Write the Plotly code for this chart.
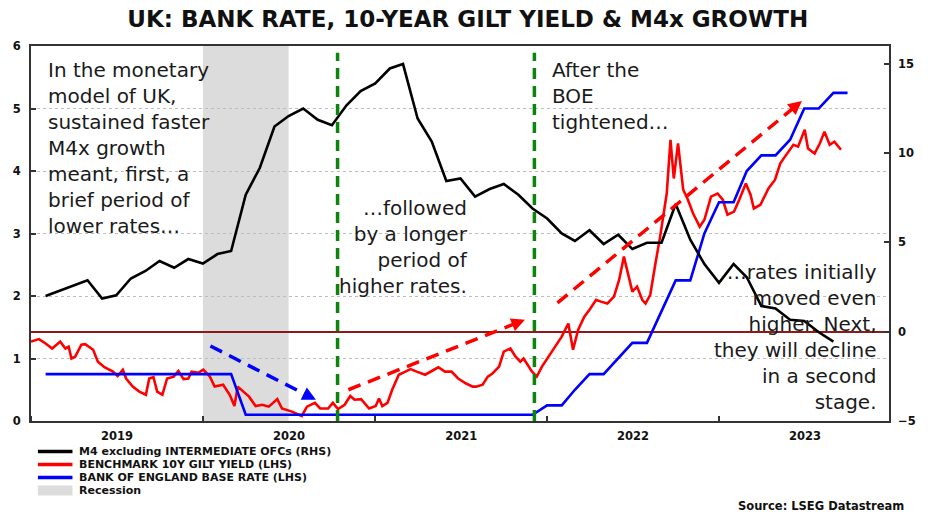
import pandas as pd
import plotly.graph_objects as go

# ---------------- DATA ----------------
# Monthly observations (end of previous month), Feb-2019 onward
month_dates = pd.date_range("2019-02-01", periods=57, freq="MS")

bank_rate = [0.75, 0.75, 0.75, 0.75, 0.75, 0.75, 0.75, 0.75, 0.75, 0.75, 0.75, 0.75, 0.75, 0.75,
             0.1, 0.1, 0.1, 0.1, 0.1, 0.1, 0.1, 0.1, 0.1, 0.1, 0.1, 0.1, 0.1, 0.1, 0.1, 0.1, 0.1,
             0.1, 0.1, 0.1, 0.1,
             0.25, 0.25, 0.5, 0.75, 0.75, 1.0, 1.25, 1.25, 1.75, 2.25, 2.25, 3.0, 3.5, 3.5, 4.0,
             4.25, 4.25, 4.5, 5.0, 5.0, 5.25, 5.25]

m4x_growth = [2.0, 2.28, 2.56, 2.88, 1.86, 2.04, 2.98, 3.4, 3.96, 3.58, 4.07, 3.82, 4.35, 4.52,
              7.67, 9.18, 11.49, 12.08, 12.5, 11.87, 11.56, 12.68, 13.48, 13.9, 14.74, 14.99,
              11.94, 10.65, 8.44, 8.58, 7.57, 7.99, 8.27, 7.67, 6.9, 6.34, 5.5, 5.08, 5.68, 4.91,
              5.43, 4.63, 4.98, 4.98, 7.15, 5.15, 3.79, 2.74, 3.79, 3.05, 1.44, 1.3, 0.67, 0.6,
              -0.03, -0.55]

gilt_dates = [
    "2019-01-01", "2019-01-18", "2019-02-01", "2019-02-15", "2019-03-04", "2019-03-15", "2019-03-22",
    "2019-03-28", "2019-04-05", "2019-04-18", "2019-04-26", "2019-05-13", "2019-05-23", "2019-06-06",
    "2019-06-24", "2019-07-04", "2019-07-15", "2019-07-22", "2019-08-05", "2019-08-19", "2019-09-02",
    "2019-09-09", "2019-09-18", "2019-09-26", "2019-10-07", "2019-10-17", "2019-10-31", "2019-11-10",
    "2019-11-21", "2019-12-01", "2019-12-08", "2019-12-22", "2020-01-02", "2020-01-16", "2020-01-26",
    "2020-02-13", "2020-02-27", "2020-03-08", "2020-03-15", "2020-03-26", "2020-04-08", "2020-04-22",
    "2020-05-06", "2020-05-20", "2020-06-07", "2020-06-17", "2020-07-08", "2020-07-29", "2020-08-09",
    "2020-08-26", "2020-09-06", "2020-09-23", "2020-10-03", "2020-10-14", "2020-10-28", "2020-11-09",
    "2020-11-18", "2020-12-02", "2020-12-19", "2021-01-02", "2021-01-09", "2021-01-16", "2021-01-27",
    "2021-02-06", "2021-02-20", "2021-03-06", "2021-03-17", "2021-03-30", "2021-04-17", "2021-05-01",
    "2021-05-15", "2021-05-29", "2021-06-12", "2021-06-26", "2021-07-13", "2021-07-27", "2021-08-03",
    "2021-08-17", "2021-08-28", "2021-09-07", "2021-09-21", "2021-10-01", "2021-10-15", "2021-10-26",
    "2021-11-05", "2021-11-12", "2021-11-19", "2021-11-30", "2021-12-10", "2021-12-21", "2022-01-04",
    "2022-01-18", "2022-02-01", "2022-02-15", "2022-02-25", "2022-03-08", "2022-03-21", "2022-04-01",
    "2022-04-15", "2022-04-25", "2022-05-09", "2022-05-23", "2022-06-03", "2022-06-13", "2022-06-20",
    "2022-07-01", "2022-07-11", "2022-07-22", "2022-07-29", "2022-08-08", "2022-08-19", "2022-08-29",
    "2022-09-12", "2022-09-20", "2022-09-27", "2022-10-06", "2022-10-17", "2022-10-27", "2022-11-07",
    "2022-11-21", "2022-12-01", "2022-12-15", "2022-12-29", "2023-01-09", "2023-01-19", "2023-02-02",
    "2023-02-13", "2023-02-27", "2023-03-09", "2023-03-16", "2023-03-30", "2023-04-16", "2023-04-30",
    "2023-05-11", "2023-05-21", "2023-06-08", "2023-06-18", "2023-07-02", "2023-07-09", "2023-07-23",
    "2023-08-03", "2023-08-13", "2023-08-24", "2023-09-03", "2023-09-17"]

gilt_yield = [
    1.27, 1.31, 1.24, 1.16, 1.27, 1.16, 1.19, 1.0, 1.03, 1.22, 1.23, 1.14, 0.95, 0.86,
    0.79, 0.72, 0.82, 0.68, 0.55, 0.47, 0.42, 0.68, 0.70, 0.47, 0.42, 0.68, 0.71, 0.80,
    0.67, 0.68, 0.79, 0.77, 0.82, 0.71, 0.55, 0.58, 0.42, 0.24, 0.55, 0.47, 0.39, 0.24,
    0.26, 0.23, 0.35, 0.20, 0.15, 0.08, 0.23, 0.29, 0.20, 0.20, 0.29, 0.19, 0.26, 0.40,
    0.34, 0.35, 0.20, 0.24, 0.36, 0.24, 0.29, 0.50, 0.74, 0.79, 0.83, 0.79, 0.74, 0.80,
    0.86, 0.79, 0.79, 0.68, 0.60, 0.55, 0.55, 0.58, 0.71, 0.76, 0.87, 1.11, 1.16, 1.03,
    0.95, 1.0, 0.92, 0.79, 0.71, 0.87, 1.03, 1.19, 1.35, 1.56, 1.14, 1.46, 1.67, 1.78,
    1.94, 1.91, 1.88, 1.99, 2.26, 2.63, 2.42, 2.07, 2.15, 1.94, 1.88, 2.02, 2.52, 2.95,
    3.64, 4.50, 3.88, 4.44, 3.70, 3.54, 3.32, 3.11, 3.22, 3.59, 3.64, 3.54, 3.30, 3.35,
    3.54, 3.80, 3.62, 3.40, 3.46, 3.72, 3.86, 4.12, 4.23, 4.42, 4.39, 4.66, 4.36, 4.28,
    4.44, 4.63, 4.42, 4.47, 4.34]

recession = ("2020-01-01", "2020-07-01")
event_dates = ["2020-10-13", "2021-12-05"]

x_range = ["2019-01-01", "2023-12-28"]
left_range = [0, 6]
right_range = [-5, 16]
right_ticks = [-5, 0, 5, 10, 15]

# (start date, start LHS value, end date, end LHS value, colour, head pixel offset, line fraction)
arrows = [
    ("2020-01-17", 1.20, "2020-08-28", 0.34, "#0000ff", (-8.9, -4.5), 0.94),
    ("2020-11-05", 0.50, "2021-11-15", 1.62, "#ff0000", (-9.3, 3.7), 0.96),
    ("2022-01-23", 1.89, "2023-06-26", 5.12, "#ff0000", (-7.7, 6.3), 0.975),
]

legend_items = [
    ("M4 excluding INTERMEDIATE OFCs (RHS)", "#000000"),
    ("BENCHMARK 10Y GILT YIELD (LHS)", "#ff0000"),
    ("BANK OF ENGLAND BASE RATE (LHS)", "#0000ff"),
]

title_text = "UK: BANK RATE, 10-YEAR GILT YIELD & M4x GROWTH"
source_text = "Source: LSEG Datastream"

# ---------------- FIGURE ----------------
FONT = "DejaVu Sans"
fig = go.Figure()

fig.add_trace(go.Scatter(x=gilt_dates, y=gilt_yield, mode="lines", name=legend_items[1][0],
                         line=dict(color="#ff0000", width=2.6), yaxis="y"))
fig.add_trace(go.Scatter(x=month_dates, y=bank_rate, mode="lines", name=legend_items[2][0],
                         line=dict(color="#0000ff", width=2.6), yaxis="y"))
fig.add_trace(go.Scatter(x=month_dates[:len(m4x_growth)], y=m4x_growth, mode="lines",
                         name=legend_items[0][0], line=dict(color="#000000", width=2.6), yaxis="y2"))

shapes = []
# recession shading
shapes.append(dict(type="rect", xref="x", yref="paper", x0=recession[0], x1=recession[1],
                   y0=0, y1=1, fillcolor="#dcdcdc", line=dict(width=0), layer="below"))
# event lines
for d in event_dates:
    shapes.append(dict(type="line", xref="x", yref="paper", x0=d, x1=d, y0=0, y1=0.982,
                       line=dict(color="#0b850b", width=3.5, dash="11px,7px"), layer="above"))

annotations = []
for (sd, sv, ed, ev, col, off, frac) in arrows:
    s = pd.Timestamp(sd)
    e = pd.Timestamp(ed)
    mid = s + (e - s) * frac
    shapes.append(dict(type="line", xref="x", yref="y", x0=sd, y0=sv,
                       x1=mid.strftime("%Y-%m-%d %H:%M"), y1=sv + (ev - sv) * frac,
                       line=dict(color=col, width=3.5, dash="13px,8px"), layer="above"))
    annotations.append(dict(x=ed, y=ev, xref="x", yref="y", ax=off[0], ay=off[1],
                            showarrow=True, arrowhead=2, arrowsize=0.85, arrowwidth=3.2,
                            arrowcolor=col, text=""))

# text annotations (paper coords)
txt_font = dict(family=FONT, size=20, color="#1a1a1a")
annotations += [
    dict(text="In the monetary<br>model of UK,<br>sustained faster<br>M4x growth<br>meant, first, a<br>brief period of<br>lower rates…",
         x=0.018, y=0.729, xref="paper", yref="paper", xanchor="left", yanchor="middle",
         align="left", showarrow=False, font=txt_font),
    dict(text="…followed<br>by a longer<br>period of<br>higher rates.",
         x=0.512, y=0.463, xref="paper", yref="paper", xanchor="right", yanchor="middle",
         align="right", showarrow=False, font=txt_font),
    dict(text="After the<br>BOE<br>tightened…",
         x=0.605, y=0.868, xref="paper", yref="paper", xanchor="left", yanchor="middle",
         align="left", showarrow=False, font=txt_font),
    dict(text="…rates initially<br>moved even<br>higher. Next,<br>they will decline<br>in a second<br>stage.",
         x=0.988, y=0.224, xref="paper", yref="paper", xanchor="right", yanchor="middle",
         align="right", showarrow=False, font=txt_font),
]

# manual legend (compact rows)
px_l, px_t, pw, ph = 31, 46, 869, 375
def pxx(p):
    return (p - px_l) / pw
def pxy(p):
    return (px_t + ph - p) / ph

leg_font = dict(family=FONT, size=11, color="#111111", weight="bold")
row_y = [451.5, 464.5, 477.5]
for (label, col), ry in zip(legend_items, row_y):
    shapes.append(dict(type="line", xref="paper", yref="paper", x0=pxx(38), x1=pxx(73),
                       y0=pxy(ry), y1=pxy(ry), line=dict(color=col, width=3.5)))
    annotations.append(dict(text=label, x=pxx(79), y=pxy(ry), xref="paper", yref="paper",
                            xanchor="left", yanchor="middle", showarrow=False, font=leg_font,
                            borderpad=0))
shapes.append(dict(type="rect", xref="paper", yref="paper", x0=pxx(38), x1=pxx(73),
                   y0=pxy(495.5), y1=pxy(485.5), fillcolor="#dcdcdc", line=dict(width=0)))
annotations.append(dict(text="Recession", x=pxx(79), y=pxy(490.5), xref="paper", yref="paper",
                        xanchor="left", yanchor="middle", showarrow=False, font=leg_font,
                        borderpad=0))
annotations.append(dict(text=source_text, x=pxx(917), y=pxy(506), xref="paper", yref="paper",
                        xanchor="right", yanchor="middle", showarrow=False,
                        font=dict(family=FONT, size=11.5, color="#111111", weight="bold")))

tickfont = dict(family=FONT, size=11.5, color="#111111", weight="bold")

fig.update_layout(
    width=928, height=512,
    margin=dict(l=31, r=28, t=46, b=91),
    paper_bgcolor="white", plot_bgcolor="white",
    showlegend=False,
    font=dict(family=FONT),
    title=dict(text=title_text, x=0.504, y=0.963, xref="container", yref="container",
               xanchor="center", yanchor="middle",
               font=dict(family=FONT, size=23, color="#111111", weight="bold")),
    xaxis=dict(type="date", range=x_range, tick0="2019-01-01", dtick="M12", tickformat="%Y",
               ticklabelmode="period", ticks="inside", ticklen=5, tickwidth=1.5, tickcolor="#333333",
               showgrid=False, zeroline=False, showline=True, mirror=True,
               linecolor="#333333", linewidth=2, tickfont=tickfont, ticklabelstandoff=3),
    yaxis=dict(range=left_range, dtick=1, ticks="inside", ticklen=5, tickwidth=1.5,
               tickcolor="#333333", showgrid=True, gridcolor="#bdbdbd", griddash="dot",
               gridwidth=1, zeroline=False, showline=True, mirror=True,
               linecolor="#333333", linewidth=2, tickfont=tickfont, ticklabelstandoff=6),
    yaxis2=dict(range=right_range, tickvals=right_ticks, overlaying="y", side="right",
                ticks="inside", ticklen=5, tickwidth=1.5, tickcolor="#333333",
                showgrid=False, zeroline=True, zerolinecolor="#8b1a1a", zerolinewidth=1.5,
                showline=False, tickfont=tickfont, ticklabelstandoff=8),
    shapes=shapes,
    annotations=annotations,
)

fig.write_html("out.html", config={"displayModeBar": False},
               post_script="document.body.style.margin='0';")
